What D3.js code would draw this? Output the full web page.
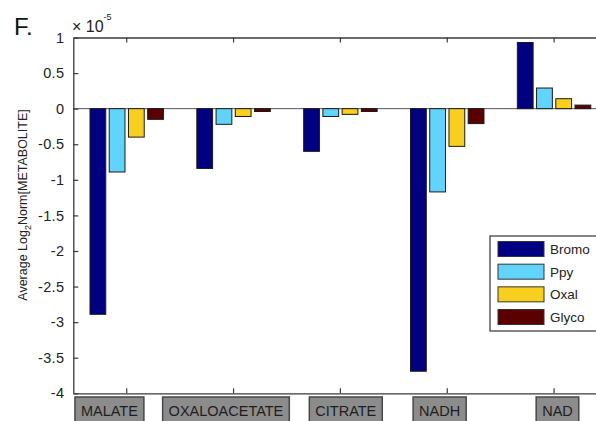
<!DOCTYPE html>
<html>
<head>
<meta charset="utf-8">
<script src="https://cdn.jsdelivr.net/npm/d3@7"></script>
<style>
  html, body { margin: 0; padding: 0; background: #fff; }
  svg { display: block; font-family: "Liberation Sans", Arial, sans-serif; }
</style>
</head>
<body>
<svg id="chart" width="596" height="421"></svg>
<script>
// ---- data (values in units of 1e-5) ----
const categories = ["MALATE", "OXALOACETATE", "CITRATE", "NADH", "NAD"];
const seriesNames = ["Bromo", "Ppy", "Oxal", "Glyco"];
const bromo = [-2.89, -0.84, -0.60, -3.69, 0.93];
const ppy   = [-0.89, -0.22, -0.11, -1.17, 0.29];
const oxal  = [-0.40, -0.11, -0.08, -0.53, 0.14];
const glyco = [-0.15, -0.04, -0.04, -0.21, 0.05];
const yTicks = [1, 0.5, 0, -0.5, -1, -1.5, -2, -2.5, -3, -3.5, -4];
const yTickLabels = ["1", "0.5", "0", "-0.5", "-1", "-1.5", "-2", "-2.5", "-3", "-3.5", "-4"];

// ---- layout / style ----
const colors = ["#000080", "#62d4fb", "#f8cf1e", "#5a0000"];
const labelShift = [-17.3, -7.6, 5.4, -7.6, 3.4]; // label box offset from tick
const plot = { left: 73.3, top: 37.5, bottom: 393.3, right: 607.5 };

const values = [bromo, ppy, oxal, glyco];
const svg = d3.select("#chart");

const x = d3.scaleBand().domain(categories).range([plot.left, plot.right]).paddingInner(0).paddingOuter(0);
const xs = d3.scaleBand().domain(seriesNames)
  .range([-x.bandwidth() * 0.36, x.bandwidth() * 0.36])
  .paddingInner(0.18).paddingOuter(0.09);
const y = d3.scaleLinear().domain([-4, 1]).range([plot.bottom, plot.top]);

const axisColor = "#3a3a3a";

svg.append("defs").append("clipPath").attr("id", "clip")
  .append("rect").attr("x", plot.left).attr("y", plot.top)
  .attr("width", plot.right - plot.left).attr("height", plot.bottom - plot.top);

const g = svg.append("g").attr("clip-path", "url(#clip)");

// zero baseline
g.append("line")
  .attr("x1", plot.left).attr("x2", plot.right)
  .attr("y1", y(0)).attr("y2", y(0))
  .attr("stroke", "#555").attr("stroke-width", 1);

// bars
seriesNames.forEach((s, si) => {
  g.selectAll(null).data(categories).enter().append("rect")
    .attr("x", (c) => x(c) + x.bandwidth() / 2 + xs(s))
    .attr("width", xs.bandwidth())
    .attr("y", (c, i) => y(Math.max(0, values[si][i])))
    .attr("height", (c, i) => Math.abs(y(values[si][i]) - y(0)))
    .attr("fill", colors[si])
    .attr("stroke", "#1a1a1a").attr("stroke-width", 1);
});

// axes
const yAxis = d3.axisLeft(y).tickValues(yTicks)
  .tickFormat((d, i) => yTickLabels[i]).tickSizeInner(-5).tickSizeOuter(0).tickPadding(9);
const yg = svg.append("g").attr("transform", `translate(${plot.left},0)`).call(yAxis);
yg.select(".domain").attr("stroke", axisColor).attr("stroke-width", 1.3);
yg.selectAll(".tick line").attr("stroke", axisColor).attr("stroke-width", 1.2);
yg.selectAll(".tick text").attr("font-size", 14.5).attr("fill", "#222")
  .attr("letter-spacing", 0.3)
  .attr("font-family", "'Liberation Sans', Arial, sans-serif");

const xBottom = d3.axisBottom(x).tickSizeInner(-5).tickSizeOuter(0).tickFormat("");
const xb = svg.append("g").attr("transform", `translate(0,${plot.bottom})`).call(xBottom);
xb.select(".domain").attr("stroke", axisColor).attr("stroke-width", 1.3);
xb.selectAll(".tick line").attr("stroke", axisColor).attr("stroke-width", 1.2);

const xTop = d3.axisTop(x).tickSizeInner(-5).tickSizeOuter(0).tickFormat("");
const xt = svg.append("g").attr("transform", `translate(0,${plot.top})`).call(xTop);
xt.select(".domain").attr("stroke", axisColor).attr("stroke-width", 1.3);
xt.selectAll(".tick line").attr("stroke", axisColor).attr("stroke-width", 1.2);

// category label boxes
categories.forEach((c, i) => {
  const cx = x(c) + x.bandwidth() / 2 + labelShift[i];
  const lg = svg.append("g");
  const rect = lg.append("rect");
  const t = lg.append("text").attr("x", cx).attr("y", 416)
    .attr("text-anchor", "middle").attr("font-size", 14.5).attr("fill", "#1e1e1e")
    .text(c);
  const tw = t.node().getComputedTextLength();
  rect.attr("x", cx - tw / 2 - 6).attr("y", 397)
    .attr("width", tw + 12).attr("height", 40)
    .attr("fill", "#8c8c8c").attr("stroke", "#474747").attr("stroke-width", 1.5);
});

// exponent label
const ex = svg.append("text").attr("x", 72).attr("y", 32).attr("font-size", 16).attr("fill", "#222");
ex.append("tspan").text("× 10");
ex.append("tspan").attr("dy", -12).attr("font-size", 9).text("-5");

// panel letter
svg.append("text").attr("x", 14).attr("y", 35).attr("font-size", 24).attr("fill", "#111").text("F.");

// y label
const yl = svg.append("text")
  .attr("transform", `translate(27,${(108 + 302) / 2}) rotate(-90)`)
  .attr("text-anchor", "middle").attr("font-size", 12.5).attr("fill", "#222");
yl.append("tspan").text("Average Log");
yl.append("tspan").attr("font-size", 9).attr("dy", 4).text("2");
yl.append("tspan").attr("dy", -4).text("Norm[METABOLITE]");

// legend
const leg = svg.append("g");
leg.append("rect").attr("x", 490).attr("y", 236).attr("width", 120).attr("height", 95)
  .attr("fill", "#fff").attr("stroke", "#333").attr("stroke-width", 1.2);
const rowY = d3.scalePoint().domain(seriesNames).range([249, 317]);
seriesNames.forEach((s, i) => {
  leg.append("rect").attr("x", 498).attr("y", rowY(s) - 7.5).attr("width", 46).attr("height", 15)
    .attr("fill", colors[i]).attr("stroke", "#333").attr("stroke-width", 1);
  leg.append("text").attr("x", 550).attr("y", rowY(s)).attr("dy", "0.36em")
    .attr("font-size", 13.5).attr("fill", "#222").text(s);
});
</script>
</body>
</html>
